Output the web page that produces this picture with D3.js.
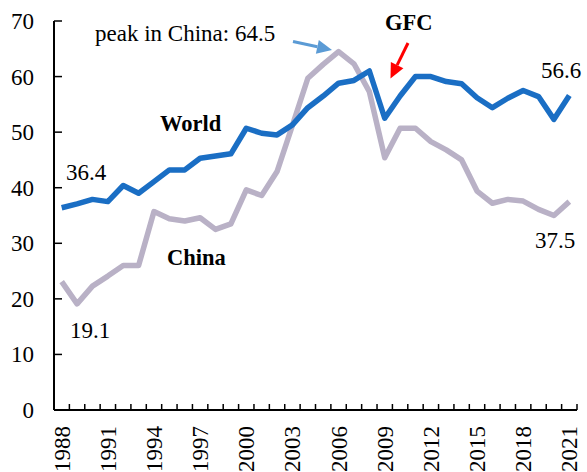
<!DOCTYPE html>
<html>
<head>
<meta charset="utf-8">
<script src="https://cdn.jsdelivr.net/npm/d3@7"></script>
<style>
  body { margin: 0; background: #fff; }
  svg { display: block; font-family: "Liberation Serif", "Times New Roman", serif; }
</style>
</head>
<body>
<div id="chart"></div>
<script>
// 数据
const years = [1988, 1989, 1990, 1991, 1992, 1993, 1994, 1995, 1996, 1997, 1998, 1999,
  2000, 2001, 2002, 2003, 2004, 2005, 2006, 2007, 2008, 2009, 2010, 2011,
  2012, 2013, 2014, 2015, 2016, 2017, 2018, 2019, 2020, 2021];

const worldValues = [36.4, 37.1, 37.9, 37.5, 40.4, 39.0, 41.1, 43.2, 43.2, 45.3, 45.7, 46.1,
  50.7, 49.8, 49.5, 51.3, 54.4, 56.5, 58.8, 59.3, 61.0, 52.5, 56.5, 60.0,
  60.0, 59.1, 58.7, 56.2, 54.4, 56.1, 57.5, 56.4, 52.3, 56.6];

const chinaValues = [23.1, 19.1, 22.3, 24.1, 26.0, 26.0, 35.7, 34.4, 34.0, 34.6, 32.5, 33.5,
  39.6, 38.6, 42.9, 51.2, 59.7, 62.2, 64.5, 62.3, 57.3, 45.4, 50.7, 50.7,
  48.3, 46.8, 45.0, 39.4, 37.2, 37.9, 37.6, 36.1, 35.0, 37.5];

const yTicks = [0, 10, 20, 30, 40, 50, 60, 70];
const xTickLabels = [1988, 1991, 1994, 1997, 2000, 2003, 2006, 2009, 2012, 2015, 2018, 2021];

const width = 587, height = 472;
const margin = { top: 21, right: 10, bottom: 62, left: 54 };

const svg = d3.select("#chart").append("svg")
  .attr("width", width)
  .attr("height", height);

const x = d3.scaleBand()
  .domain(years)
  .range([margin.left, width - margin.right]);

const y = d3.scaleLinear()
  .domain([0, 70])
  .range([height - margin.bottom, margin.top]);

const cx = d => x(d) + x.bandwidth() / 2;

// 折线
const line = d3.line()
  .x((d, i) => cx(years[i]))
  .y(d => y(d));

svg.append("path")
  .datum(chinaValues)
  .attr("fill", "none")
  .attr("stroke", "#b9b1c6")
  .attr("stroke-width", 5.5)
  .attr("stroke-linejoin", "round")
  .attr("d", line);

svg.append("path")
  .datum(worldValues)
  .attr("fill", "none")
  .attr("stroke", "#1a6ec4")
  .attr("stroke-width", 5.5)
  .attr("stroke-linejoin", "round")
  .attr("d", line);

// 坐标轴
const x0 = margin.left, x1 = width - margin.right, yBase = y(0);

svg.append("line")
  .attr("x1", x0).attr("x2", x0)
  .attr("y1", y(70)).attr("y2", yBase)
  .attr("stroke", "#000").attr("stroke-width", 2);

svg.append("line")
  .attr("x1", x0).attr("x2", x1)
  .attr("y1", yBase).attr("y2", yBase)
  .attr("stroke", "#000").attr("stroke-width", 2);

svg.append("g").selectAll("line")
  .data(yTicks)
  .join("line")
  .attr("x1", x0).attr("x2", x0 + 8)
  .attr("y1", d => y(d)).attr("y2", d => y(d))
  .attr("stroke", "#000").attr("stroke-width", 1.5);

svg.append("g").selectAll("text")
  .data(yTicks)
  .join("text")
  .attr("x", 34)
  .attr("y", d => y(d))
  .attr("dy", "0.35em")
  .attr("text-anchor", "end")
  .attr("font-size", 23)
  .text(d => d);

// x 轴刻度在类别之间
svg.append("g").selectAll("line")
  .data(years.slice(1).concat(["end"]))
  .join("line")
  .attr("x1", d => d === "end" ? x1 : x(d))
  .attr("x2", d => d === "end" ? x1 : x(d))
  .attr("y1", yBase).attr("y2", yBase - 6)
  .attr("stroke", "#000").attr("stroke-width", 1.5);

svg.append("g").selectAll("text")
  .data(xTickLabels)
  .join("text")
  .attr("transform", d => `translate(${cx(d)},${yBase + 16}) rotate(-90)`)
  .attr("dy", "0.35em")
  .attr("text-anchor", "end")
  .attr("font-size", 23)
  .text(d => d);

// 注释文字
const notes = [
  { text: "peak in China: 64.5", x: 95, y: 41, bold: false },
  { text: "GFC", x: 385, y: 30, bold: true },
  { text: "World", x: 160, y: 131, bold: true },
  { text: "China", x: 167, y: 265, bold: true },
  { text: "36.4", x: 66, y: 180, bold: false },
  { text: "19.1", x: 70, y: 338, bold: false },
  { text: "56.6", x: 541, y: 78, bold: false },
  { text: "37.5", x: 535, y: 248, bold: false }
];

svg.append("g").selectAll("text")
  .data(notes)
  .join("text")
  .attr("x", d => d.x)
  .attr("y", d => d.y)
  .attr("font-size", d => d.bold ? 22.5 : 23)
  .attr("font-weight", d => d.bold ? "bold" : "normal")
  .text(d => d.text);

// 箭头
function arrow(xa, ya, xb, yb, color) {
  const ang = Math.atan2(yb - ya, xb - xa);
  const len = 15, half = 7;
  const bx = xb - len * Math.cos(ang), by = yb - len * Math.sin(ang);
  svg.append("line")
    .attr("x1", xa).attr("y1", ya)
    .attr("x2", bx).attr("y2", by)
    .attr("stroke", color).attr("stroke-width", 3);
  const px = -Math.sin(ang) * half, py = Math.cos(ang) * half;
  svg.append("path")
    .attr("d", `M${xb},${yb}L${bx + px},${by + py}L${bx - px},${by - py}Z`)
    .attr("fill", color);
}

arrow(293, 41.5, 332, 50, "#5b9bd5");
arrow(408, 43, 390.5, 78.5, "#ff0000");
</script>
</body>
</html>
